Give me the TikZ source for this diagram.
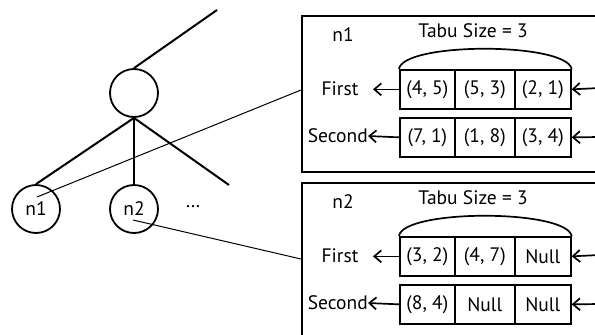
\documentclass[tikz,border=0pt]{standalone}
\usepackage{fontspec}
\setmainfont{PT Sans}
\usetikzlibrary{arrows.meta}
\tikzset{
  treeline/.style={line width=2pt},
  linkline/.style={line width=1pt},
  circ/.style={circle, draw, line width=1.8pt, minimum size=48pt, inner sep=0pt},
  panel/.style={draw, line width=1.7pt, anchor=north west, minimum width=320pt, minimum height=156pt, inner sep=0pt},
  cell/.style={draw, line width=1.7pt, minimum height=39pt, inner sep=0pt, anchor=north west},
  arr/.style={-{Straight Barb[length=7pt,width=12pt]}, line width=1.7pt},
  lbl/.style={inner sep=0pt}
}
\newcommand{\tabupanel}[9]{%
  \begin{scope}[shift={(0,#1)}]
    \node[panel] (#2box) at (301,15) {};
    \node[lbl] (#2lab) at (343,35) {#3};
    \node[lbl] (#2tabu) at (473,31) {Tabu Size = 3};
    \node[cell, minimum width=55pt] (#2a1) at (399,69) {#4};
    \node[cell, minimum width=60pt] (#2a2) at (454,69) {#5};
    \node[cell, minimum width=56pt] (#2a3) at (514,69) {#6};
    \node[cell, minimum width=55pt] (#2b1) at (399,117) {#7};
    \node[cell, minimum width=60pt] (#2b2) at (454,117) {#8};
    \node[cell, minimum width=56pt] (#2b3) at (514,117) {#9};
    \draw[line width=1.7pt] (#2a1.north west) .. controls (403,42) and (566,42) .. (#2a3.north east);
    \node[lbl] (#2first) at (340,89) {First};
    \node[lbl, anchor=east] (#2second) at (368,136) {Second};
    \draw[arr] (#2a1.west) -- ++(-26,0);
    \draw[arr] (#2b1.west) -- (#2second.east);
    \coordinate (#2rin) at (600,88);
    \coordinate (#2rin2) at (600,137);
    \draw[arr] (#2rin) -- (#2a3.east);
    \draw[arr] (#2rin2) -- (#2b3.east);
  \end{scope}}
\begin{document}
\begin{tikzpicture}[x=1pt,y=-1pt, font=\fontsize{19.5}{23}\selectfont]
\useasboundingbox (0,0) rectangle (595,335);
\clip (0,0) rectangle (595,335);
% tree
\node[circ] (root) at (134,93) {};
\node[circ] (n1) at (36,209) {n1};
\node[circ] (n2) at (134,209) {n2};
\node[lbl] (dots) at (193,207) {\dots};
\coordinate (up) at (217,10);
\coordinate (rightchild) at (229,185);
\draw[treeline] (root.north) -- (up);
\draw[treeline] (root.south) -- (n1.north);
\draw[treeline] (root.south) -- (n2.north);
\draw[treeline] (root.south) -- (rightchild);
% panels
\tabupanel{0}{p1}{n1}{(4, 5)}{(5, 3)}{(2, 1)}{(7, 1)}{(1, 8)}{(3, 4)}
\tabupanel{167}{p2}{n2}{(3, 2)}{(4, 7)}{Null}{(8, 4)}{Null}{Null}
% links
\coordinate (n1from) at (37,197);
\coordinate (n2from) at (133,220);
\coordinate (p1to) at (301,90);
\coordinate (p2to) at (301,259);
\draw[linkline] (n1from) -- (p1to);
\draw[linkline] (n2from) -- (p2to);
\end{tikzpicture}
\end{document}
